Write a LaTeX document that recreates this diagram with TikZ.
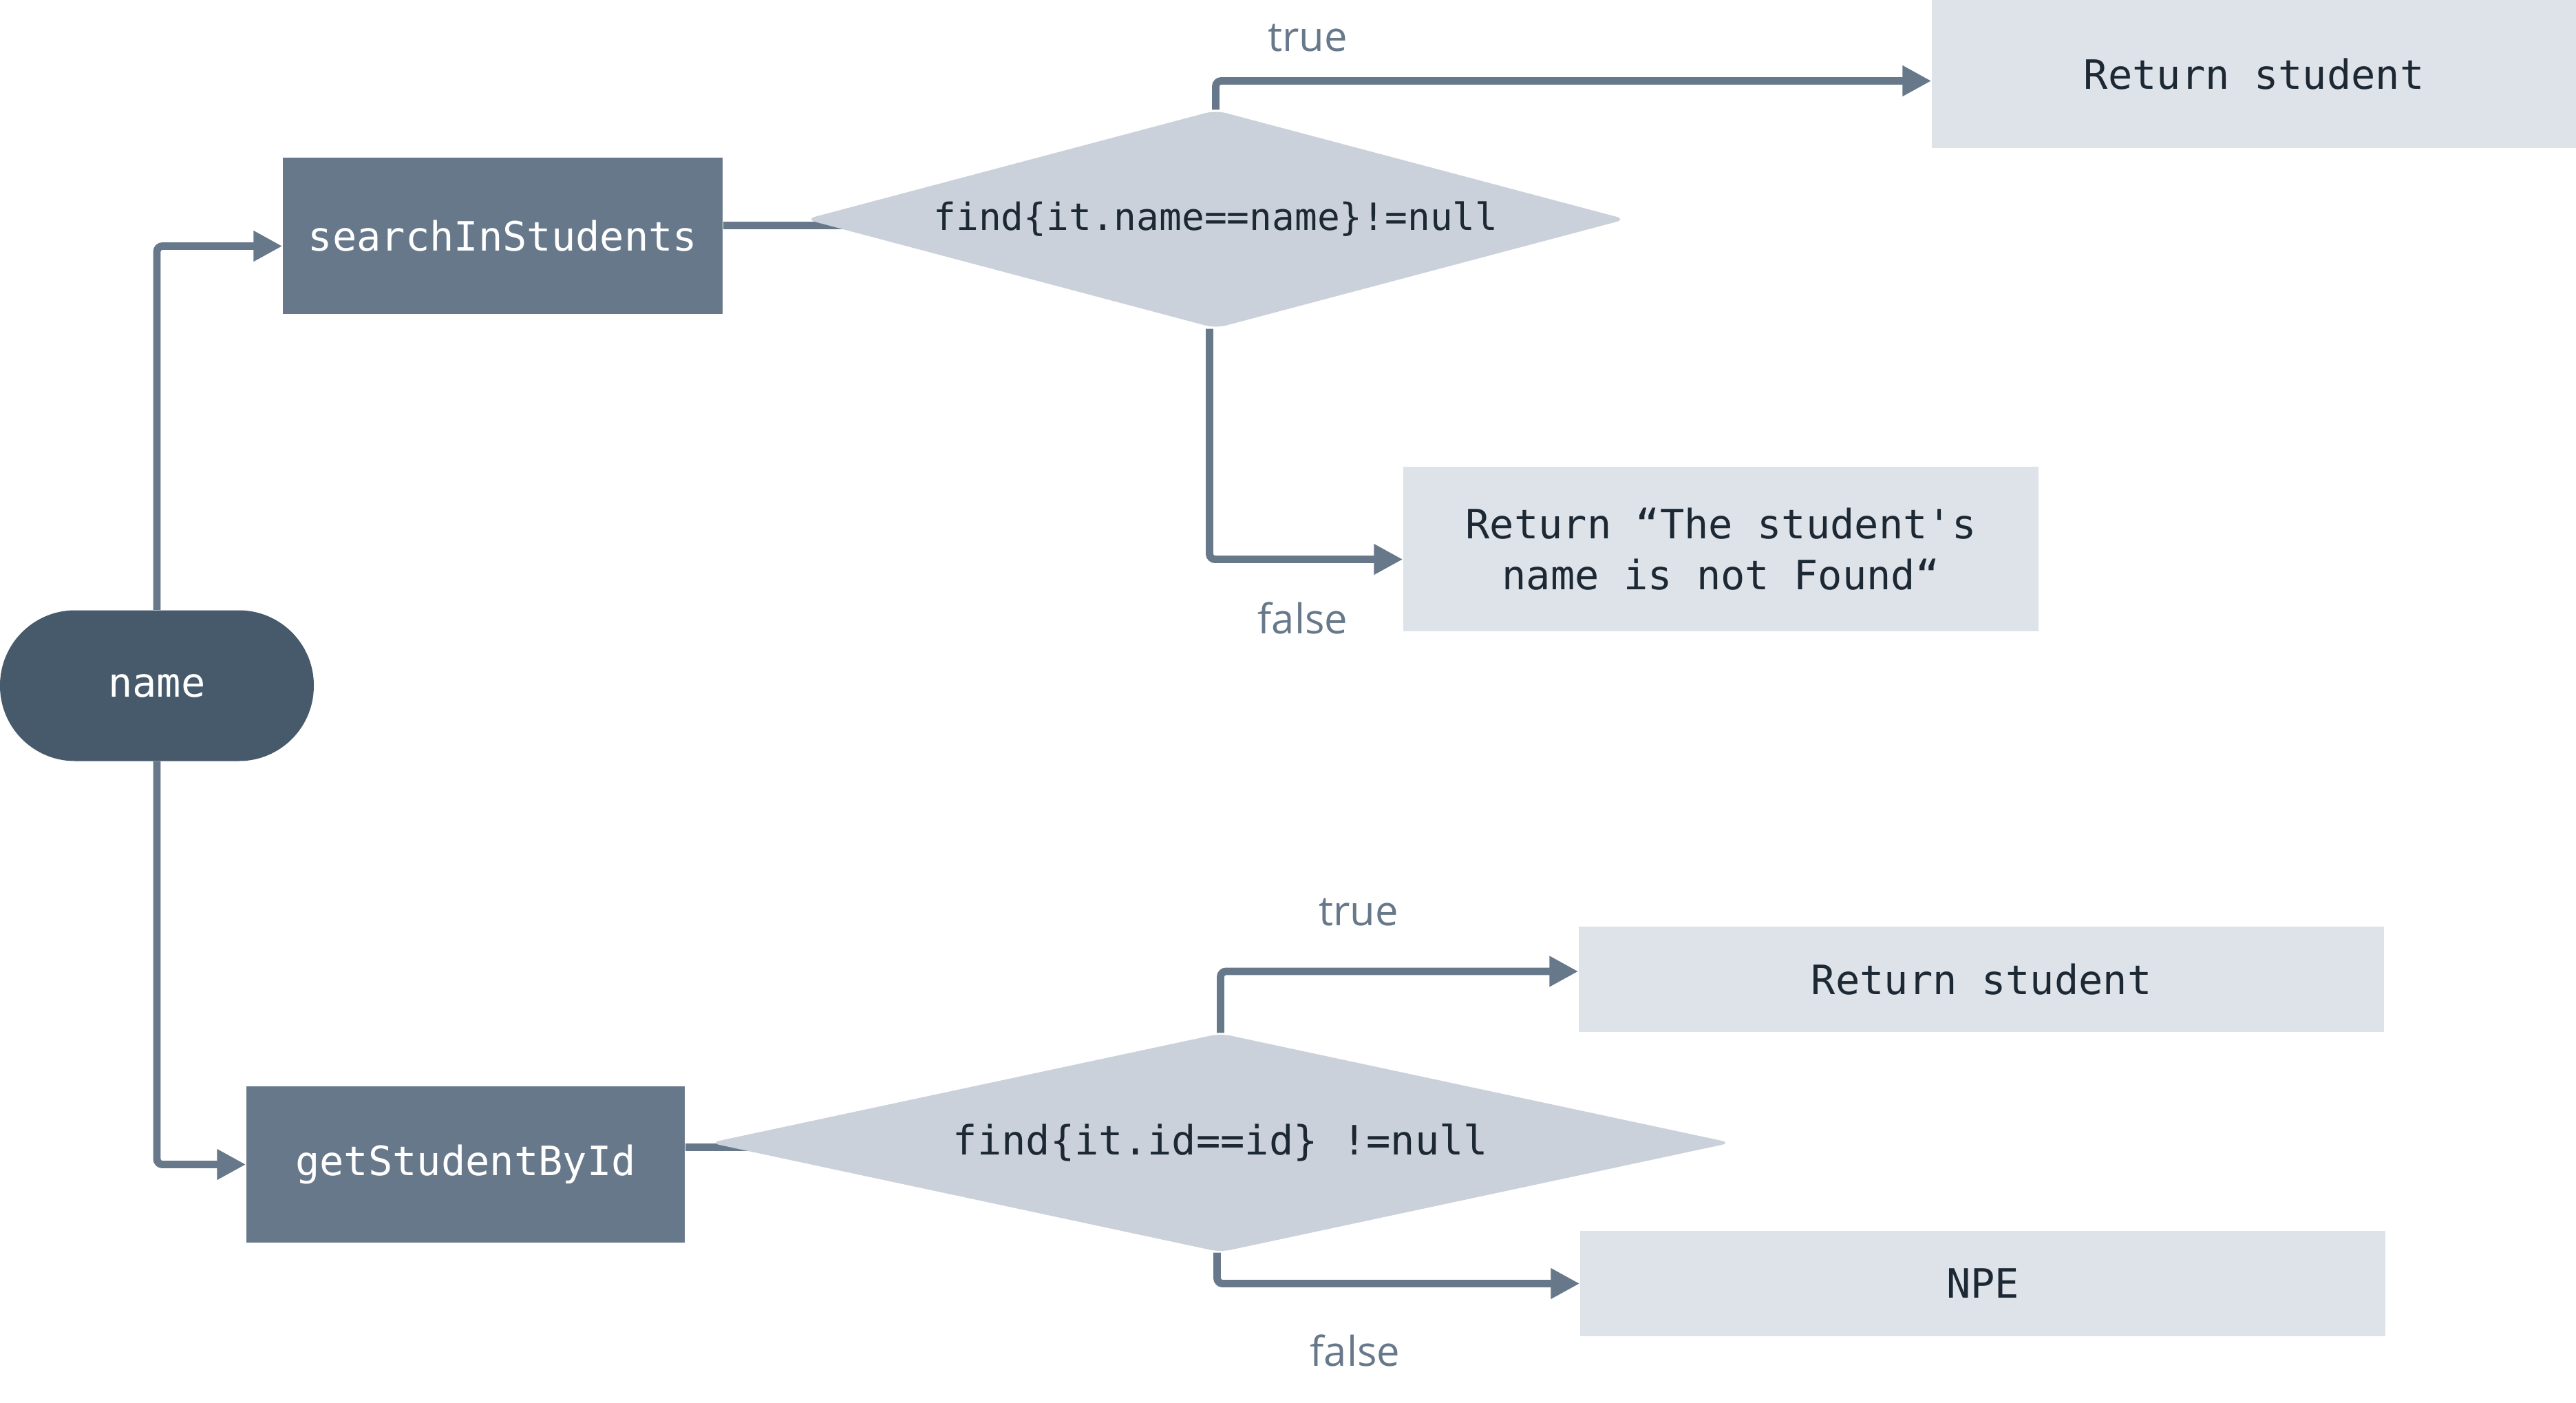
\documentclass[tikz,border=0pt]{standalone}
\usepackage{fontspec}
\setmonofont{DejaVu Sans Mono}
\setsansfont{Open Sans}
\usepackage{tikz}
\usetikzlibrary{shapes.geometric,arrows.meta,calc,backgrounds}
\definecolor{flowline}{HTML}{66788A}
\definecolor{procfill}{HTML}{66788A}
\definecolor{termfill}{HTML}{475A6B}
\definecolor{decfill}{HTML}{CAD1DA}
\definecolor{resfill}{HTML}{DEE2E9}
\definecolor{darktext}{HTML}{1C2833}

\begin{document}
\begin{tikzpicture}[>={Triangle[length=4.2mm,width=4.2mm]},
    codefont/.style={font=\fontsize{16.7}{21}\selectfont\ttfamily},
    proc/.style={codefont, rectangle, fill=procfill, text=white, inner sep=0pt},
    decision/.style={codefont, diamond, fill=decfill, text=darktext, inner sep=0pt, rounded corners=1.5mm},
    result/.style={codefont, rectangle, fill=resfill, text=darktext, inner sep=0pt, align=center},
    flow/.style={draw=flowline, line width=3.1pt, rounded corners=0.8mm},
    branch/.style={font=\fontsize{17}{20}\selectfont\sffamily, text=flowline}]
      % Canvas with the reference proportions
      \useasboundingbox (0,0) rectangle (37.43,-20.37);

      % Start: the input value
      \node[codefont, fill=termfill, text=white, minimum width=4.56cm, minimum height=2.19cm,
            rounded corners=10.9mm] (name) at (2.28,-9.96) {name};

      % Upper branch: look the student up by name
      \node[proc, minimum width=6.39cm, minimum height=2.27cm] (search) at (7.305,-3.425) {searchInStudents};
      \node[decision, aspect=3.76, minimum width=11.93cm, minimum height=3.17cm,
            font=\fontsize{15.5}{19}\selectfont\ttfamily] (dname) at (17.665,-3.185) {find\{it.name==name\}!=null};
      \node[result, minimum width=9.36cm, minimum height=2.15cm] (retname) at (32.75,-1.075) {Return student};
      \node[result, minimum width=9.23cm, minimum height=2.39cm] (notfound) at (25.005,-7.975)
            {Return “The student's\\name is not Found“};

      % Lower branch: look the student up by id
      \node[proc, minimum width=6.37cm, minimum height=2.27cm] (getid) at (6.765,-16.915) {getStudentById};
      \node[decision, aspect=4.67, minimum width=14.85cm, minimum height=3.18cm] (did) at (17.735,-16.60) {find\{it.id==id\} !=null};
      \node[result, minimum width=11.70cm, minimum height=1.53cm] (retid) at (28.79,-14.225) {Return student};
      \node[result, minimum width=11.70cm, minimum height=1.53cm] (npe) at (28.81,-18.645) {NPE};

      % Connectors
      \draw[flow,->] (name.north) |- ([yshift=-1.5mm]search.west);
      \draw[flow,->] (name.south) |- (getid.west);
      \begin{scope}[on background layer]
        \draw[flow] ([yshift=1.5mm]search.east) -- ([yshift=1.5mm]search.east -| dname.center);
        \draw[flow] ([yshift=2.5mm]getid.east) -- ([yshift=2.5mm]getid.east -| did.center);
      \end{scope}
      \draw[flow,->] (dname.north) |- ([yshift=-1mm]retname.west);
      \draw[flow,->] ([xshift=-0.9mm]dname.south) |- ([yshift=-1.5mm]notfound.west);
      \draw[flow,->] (did.north) |- ([yshift=1.15mm]retid.west);
      \draw[flow,->] ([xshift=-0.5mm]did.south) |- (npe.west);

      % Branch labels
      \node[branch] (t1) at (19.00,-0.55) {true};
      \node[branch] (f1) at (18.93,-8.98) {false};
      \node[branch] (t2) at (19.74,-13.25) {true};
      \node[branch] (f2) at (19.69,-19.62) {false};
    \end{tikzpicture}
\end{document}
